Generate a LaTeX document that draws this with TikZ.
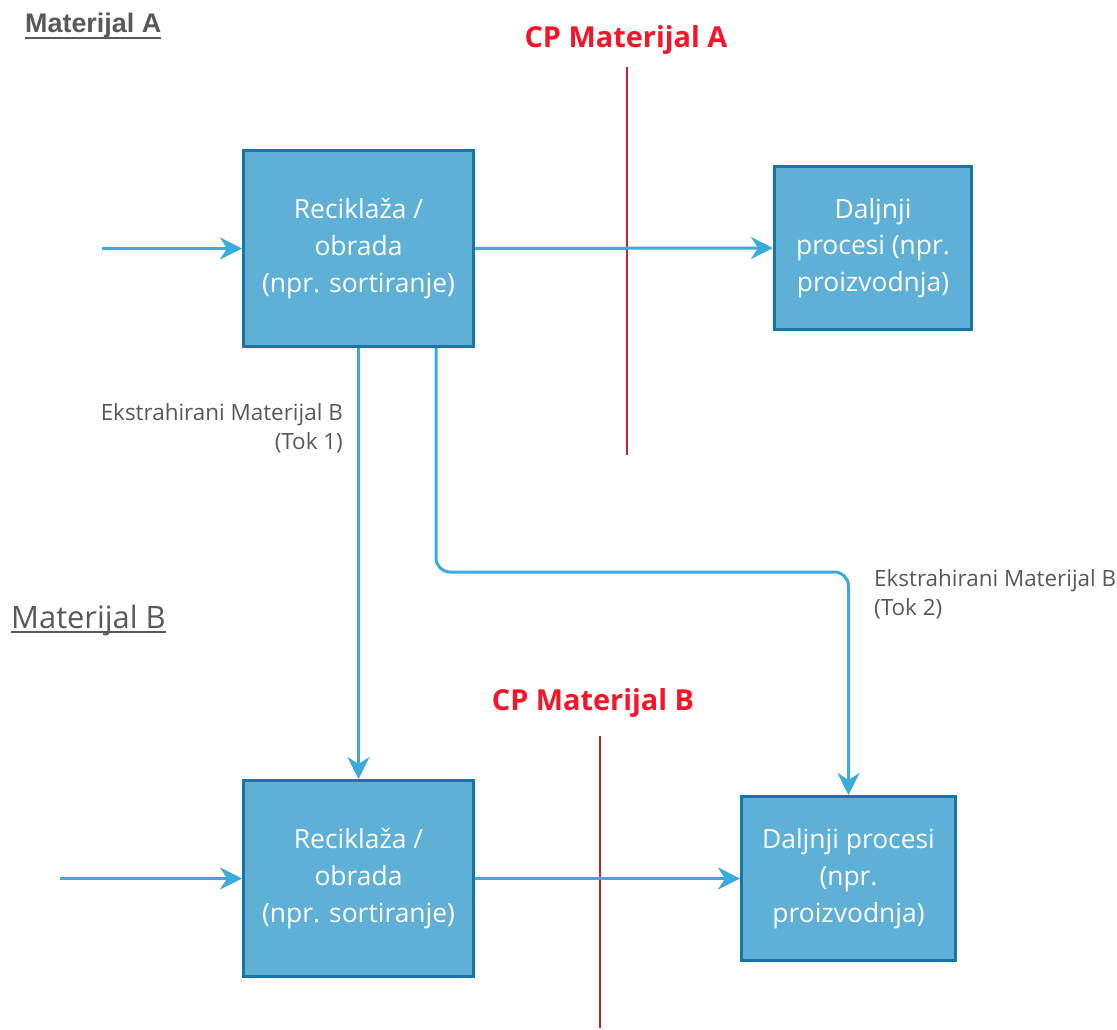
\documentclass[tikz,border=0pt]{standalone}
\usepackage{fontspec}
\setmainfont{Open Sans}
\newfontfamily\arialfont{Liberation Sans}
\usetikzlibrary{arrows.meta,positioning}

\definecolor{boxfill}{HTML}{5FB0D6}
\definecolor{boxline}{HTML}{1776A6}
\definecolor{flow}{HTML}{3AABDA}
\definecolor{cpred}{HTML}{F51428}
\definecolor{cpline}{HTML}{C42530}
\definecolor{titlegray}{HTML}{595959}

\tikzset{
  procbox/.style={draw=boxline, fill=boxfill, line width=3bp, text=white, align=center,
    inner sep=0pt, font=\fontsize{26.5}{37}\selectfont},
  flowline/.style={flow, line width=3bp, -{Stealth[length=22bp,width=22bp,inset=7bp]}},
  cpmark/.style={cpline, line width=2.5bp},
  cplabel/.style={text=cpred, font=\fontsize{29}{34}\selectfont\bfseries},
  flowlabel/.style={text=titlegray, font=\fontsize{22.5}{29}\selectfont, inner sep=0pt},
  titlelabel/.style={text=titlegray, inner sep=0pt},
}

\begin{document}
\begin{tikzpicture}[x=1bp,y=-1bp]
  \useasboundingbox[fill=white] (0,0) rectangle (1117,1030);

  % Materijal A
  \node[titlelabel, anchor=base west, font=\arialfont\fontsize{27}{30}\selectfont\bfseries] (titleA) at (25,32) {Materijal A};
  \draw[titlegray, line width=2bp] ([yshift=-6bp]titleA.base west) -- ([yshift=-6bp]titleA.base east);

  \node[cplabel] (cpA) at (626,40) {CP Materijal A};
  \draw[cpmark] (627,67) -- (627,455);

  \node[procbox, minimum width=230bp, minimum height=196bp] (recA) at (358.5,248.5) {Reciklaža /\\obrada\\(npr. sortiranje)};
  \node[procbox, minimum width=197bp, minimum height=163bp] (dalA) at (873,248) {Daljnji\\procesi (npr.\\proizvodnja)};

  \coordinate (inA) at (102,248.5);
  \draw[flowline] (inA) -- (recA.west);
  \draw[flowline] (recA.east) -- (dalA.west);

  % Materijal B
  \node[titlelabel, anchor=base west, font=\fontsize{31}{36}\selectfont] (titleB) at (11,628) {Materijal B};
  \draw[titlegray, line width=2bp] ([yshift=-4bp]titleB.base west) -- ([yshift=-4bp]titleB.base east);

  \node[cplabel] (cpB) at (593,703) {CP Materijal B};
  \draw[cpmark] (600,736) -- (600,1028);

  \node[procbox, minimum width=230bp, minimum height=196bp] (recB) at (358.5,878.5) {Reciklaža /\\obrada\\(npr. sortiranje)};
  \node[procbox, minimum width=214bp, minimum height=164bp] (dalB) at (848.5,878.5) {Daljnji procesi\\(npr.\\proizvodnja)};

  \coordinate (inB) at (60,878.5);
  \draw[flowline] (inB) -- (recB.west);
  \draw[flowline] (recB.east) -- (dalB.west);

  % izdvojeni tokovi
  \draw[flowline] (recA.south) -- (recB.north);
  \draw[flowline, rounded corners=14bp] ([xshift=77.5bp]recA.south) -- ++(0,224) -| (dalB.north);

  \node[flowlabel, anchor=east, align=right] (tok1) at (343,428) {Ekstrahirani Materijal B\\(Tok 1)};
  \node[flowlabel, anchor=west, align=left] (tok2) at (874,594) {Ekstrahirani Materijal B\\(Tok 2)};
\end{tikzpicture}
\end{document}
